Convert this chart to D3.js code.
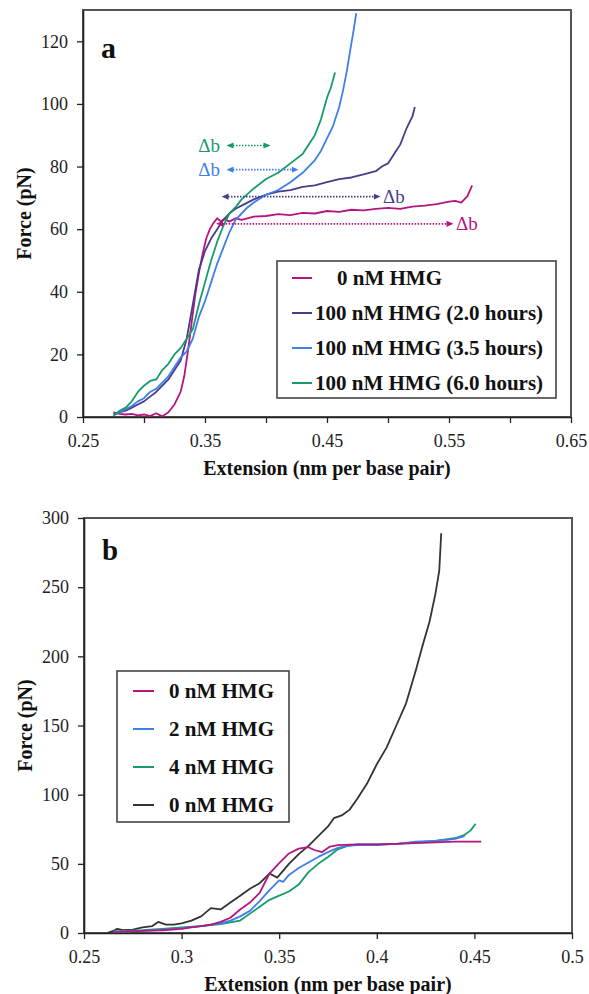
<!DOCTYPE html>
<html><head><meta charset="utf-8">
<script src="https://cdn.jsdelivr.net/npm/d3@7"></script>
<style>
html,body{margin:0;padding:0;background:#fff;}
svg{display:block;}
svg text{font-family:"Liberation Serif","Times New Roman",Times,serif;}
</style></head>
<body>
<svg id="chart" width="589" height="994"></svg>
<script>
// ---------- Panel a data ----------
const aMagentaX = [0.275,0.28,0.285,0.29,0.295,0.30,0.305,0.31,0.315,0.32,0.325,0.33,0.333,0.336,0.339,0.342,0.345,0.348,0.351,0.354,0.357,0.36,0.363,0.366,0.37,0.375,0.38,0.39,0.40,0.41,0.42,0.43,0.44,0.45,0.46,0.47,0.48,0.49,0.50,0.51,0.52,0.53,0.54,0.55,0.555,0.56,0.565,0.569];
const aMagentaF = [1.5,1,0.8,1,0.5,0.8,0.3,1.2,0.2,1.5,4,8,13,21,30,39,46,52,57,60,62,63.5,62.5,63.2,62.4,63.5,63,64,64.2,64.8,64.5,65.2,65,65.8,65.5,66.2,66,66.5,66.8,66.5,67.2,67.5,68,68.8,69,68.5,70.5,74];
const aPurpleX = [0.275,0.28,0.285,0.29,0.295,0.30,0.305,0.31,0.315,0.32,0.325,0.33,0.335,0.34,0.345,0.35,0.355,0.36,0.365,0.37,0.375,0.38,0.39,0.40,0.41,0.42,0.43,0.44,0.45,0.46,0.47,0.48,0.49,0.495,0.50,0.505,0.51,0.515,0.52,0.522];
const aPurpleF = [1,1.5,2,3,4,5,6.5,8,10,12,15,18,25,36,47,53,57,60,63,65,66.5,67.5,69.5,71,72,72.5,73.5,74,75,76,76.5,77.5,78.5,80,81,84,87,92,96,99];
const aBlueX = [0.275,0.28,0.285,0.29,0.295,0.30,0.305,0.31,0.315,0.32,0.325,0.33,0.335,0.34,0.345,0.35,0.355,0.36,0.365,0.37,0.375,0.38,0.385,0.39,0.40,0.41,0.42,0.43,0.44,0.445,0.45,0.455,0.46,0.463,0.466,0.469,0.472,0.474];
const aBlueF = [0.5,1.5,2.5,3.5,5,6,8,9,11,13,16,19,21,25,32,37,43,49,54,59,63,65,67,68.5,71,72.5,75,78,82,85,89,93,99,104,110,117,124,129];
const aGreenX = [0.275,0.28,0.285,0.29,0.295,0.30,0.305,0.31,0.315,0.32,0.325,0.33,0.335,0.34,0.345,0.35,0.355,0.36,0.365,0.37,0.375,0.38,0.39,0.40,0.41,0.42,0.43,0.44,0.445,0.45,0.453,0.4566];
const aGreenF = [0.5,2,3,5,8,10,11.5,12,15,17,20,22,25,28,36,43,50,56,61,65,67,69.5,73,76,78,81,84,90,95,102,105,110];
const aLabels = ["0 nM HMG","100 nM HMG (2.0 hours)","100 nM HMG (3.5 hours)","100 nM HMG (6.0 hours)"];
const aColors = ["#b5157f","#4a3b8e","#3f7fe8","#179a6c"];
// Δb annotation: start extension, end extension, force level
const aArrowX1 = [0.3705,0.3705,0.3664,0.362];
const aArrowX2 = [0.4008,0.4238,0.491,0.5508];
const aArrowF  = [86.7,79,70.4,61.7];
const aArrowSide = ["left","left","right","right"];
const aArrowColor = ["#179a6c","#3f7fe8","#4a3b8e","#b5157f"];
const aXTicks = [0.25,0.30,0.35,0.40,0.45,0.50,0.55,0.60,0.65];
const aXLabels = ["0.25","","0.35","","0.45","","0.55","","0.65"];
const aYTicks = [0,20,40,60,80,100,120];

// ---------- Panel b data ----------
const bMagentaX = [0.265,0.27,0.28,0.29,0.30,0.305,0.31,0.315,0.32,0.325,0.33,0.335,0.34,0.345,0.35,0.355,0.36,0.365,0.368,0.372,0.376,0.38,0.39,0.40,0.41,0.42,0.43,0.44,0.45,0.4535];
const bMagentaF = [0.5,1,1.5,2,3,4,5,6,8,11,17,22,29,43,50.5,57.5,61,62,60,58.5,62.5,63.5,64,64,64.5,65,65.5,66,66,66];
const bBlueX = [0.265,0.27,0.28,0.29,0.30,0.31,0.32,0.325,0.33,0.335,0.34,0.345,0.35,0.352,0.355,0.36,0.365,0.37,0.375,0.38,0.385,0.39,0.40,0.41,0.42,0.43,0.44,0.445];
const bBlueF = [1,1,1.5,2.5,3.5,5,7,9,12,16,23,31,38,37,42,47,51,55,58.5,61.5,63,63.5,63.5,64.5,66,66.5,68,70];
const bGreenX = [0.265,0.27,0.28,0.29,0.30,0.31,0.32,0.33,0.335,0.34,0.345,0.35,0.355,0.36,0.365,0.37,0.375,0.38,0.385,0.39,0.40,0.41,0.42,0.43,0.44,0.445,0.448,0.4506];
const bGreenF = [1,1.5,2,3,4,5,6.5,9,14,19,24,27,30,35,44,50,55,60.5,63,64,64,64.5,65.5,66.5,68.5,71,74,79];
const bBlackX = [0.2618,0.265,0.267,0.27,0.275,0.28,0.285,0.288,0.292,0.296,0.30,0.305,0.31,0.315,0.32,0.325,0.33,0.335,0.34,0.345,0.349,0.355,0.36,0.365,0.37,0.375,0.378,0.382,0.386,0.39,0.395,0.40,0.405,0.41,0.415,0.42,0.4235,0.427,0.43,0.432,0.433];
const bBlackF = [0,1.5,3,2,2.5,4,5,8,6,6,7,9,12,18,17,22,27,32,36,43,40,50,57,63,70,77,83,85,89,97,108,122,134,150,166,190,208,225,245,262,289];
const bLabels = ["0 nM HMG","2 nM HMG","4 nM HMG","0 nM HMG"];
const bColors = ["#b5157f","#3f7fe8","#179a6c","#333333"];
const bXTicks = [0.25,0.30,0.35,0.40,0.45,0.50];
const bXLabels = ["0.25","0.3","0.35","0.4","0.45","0.5"];
const bYTicks = [0,50,100,150,200,250,300];

const FONT = "'Liberation Serif','Times New Roman',Times,serif";
const svg = d3.select("#chart");
const defs = svg.append("defs");

function zip(xs, fs){ return xs.map((x,i)=>({x:x, f:fs[i]})); }

function drawPanel(cfg){
  const g = svg.append("g").attr("font-family",FONT);
  const x = d3.scaleLinear().domain(cfg.xDomain).range(cfg.xRange);
  const y = d3.scaleLinear().domain(cfg.yDomain).range(cfg.yRange);
  const [x0,x1] = cfg.xRange, [y0,y1] = cfg.yRange;

  g.append("rect").attr("x",x0).attr("y",y1).attr("width",x1-x0).attr("height",y0-y1)
    .attr("fill","none").attr("stroke","#555").attr("stroke-width",2);

  const xa = d3.axisBottom(x).tickValues(cfg.xTicks).tickSize(6).tickSizeOuter(0).tickPadding(11)
    .tickFormat((d,i)=>cfg.xLabels[i]);
  const gx = g.append("g").attr("transform",`translate(0,${y0})`).call(xa);
  const ya = d3.axisLeft(y).tickValues(cfg.yTicks).tickSize(6).tickSizeOuter(0).tickPadding(9)
    .tickFormat(d3.format("d"));
  const gy = g.append("g").attr("transform",`translate(${x0},0)`).call(ya);
  [gx,gy].forEach(a=>{
    a.attr("font-family",FONT).attr("font-size",18);
    a.select(".domain").attr("stroke","#222").attr("stroke-width",1.6);
    a.selectAll(".tick line").attr("stroke","#222").attr("stroke-width",1.3);
    a.selectAll(".tick text").attr("font-family",FONT).attr("font-size",18).attr("fill","#222");
  });

  g.append("text").attr("x",(x0+x1)/2).attr("y",y0+58).attr("text-anchor","middle").attr("font-family",FONT)
    .attr("font-size",20).attr("font-weight","bold").attr("fill","#111").text("Extension (nm per base pair)");
  g.append("text").attr("transform",`translate(${cfg.yTitleX},${(y0+y1)/2}) rotate(-90)`).attr("font-family",FONT)
    .attr("text-anchor","middle").attr("font-size",20).attr("font-weight","bold").attr("fill","#111").text("Force (pN)");

  g.append("text").attr("x",cfg.letterX).attr("y",cfg.letterY).attr("font-size",cfg.letterSize).attr("font-family",FONT)
    .attr("font-weight","bold").attr("fill","#111").text(cfg.letter);

  const line = d3.line().x(d=>x(d.x)).y(d=>y(d.f));
  cfg.series.forEach(s=>{
    g.append("path").datum(zip(s.xs,s.fs)).attr("d",line).attr("fill","none")
      .attr("stroke",s.color).attr("stroke-width",1.8).attr("stroke-linejoin","round");
  });

  const L = cfg.legend;
  g.append("rect").attr("x",L.x).attr("y",L.y).attr("width",L.w).attr("height",L.h)
    .attr("fill","#fff").attr("stroke","#444").attr("stroke-width",1.6);
  L.labels.forEach((lab,i)=>{
    const by = L.y + L.firstBase + i*L.step;
    g.append("line").attr("x1",L.sx1).attr("x2",L.sx2).attr("y1",by-7).attr("y2",by-7)
      .attr("stroke",L.colors[i]).attr("stroke-width",2);
    g.append("text").attr("x", L.textX[i]).attr("y",by).attr("font-size",21).attr("font-weight","bold").attr("font-family",FONT)
      .attr("fill","#111").text(lab);
  });
  return {g,x,y};
}

const A = drawPanel({
  xDomain:[0.25,0.65], xRange:[83,571], yDomain:[0,130], yRange:[417,10],
  xTicks:aXTicks, xLabels:aXLabels, yTicks:aYTicks, yTitleX:31,
  letter:"a", letterX:101, letterY:58, letterSize:30,
  series:[
    {xs:aMagentaX, fs:aMagentaF, color:aColors[0]},
    {xs:aPurpleX, fs:aPurpleF, color:aColors[1]},
    {xs:aBlueX, fs:aBlueF, color:aColors[2]},
    {xs:aGreenX, fs:aGreenF, color:aColors[3]}
  ],
  legend:{x:277,y:261,w:279,h:137,firstBase:24,step:35,sx1:292,sx2:312,
    textX:[337,315,315,315], labels:aLabels, colors:aColors}
});

aArrowColor.forEach((c,i)=>{
  const id = "arr"+i;
  defs.append("marker").attr("id",id).attr("viewBox","0 0 8 8").attr("refX",4).attr("refY",4)
    .attr("markerWidth",7).attr("markerHeight",7).attr("markerUnits","userSpaceOnUse")
    .attr("orient","auto-start-reverse")
    .append("path").attr("d","M0,0.5 L8,4 L0,7.5 Z").attr("fill",c);
  const yy = A.y(aArrowF[i]);
  const xs = A.x(aArrowX1[i]), xe = A.x(aArrowX2[i]);
  A.g.append("line").attr("x1",xs).attr("x2",xe).attr("y1",yy).attr("y2",yy)
    .attr("stroke",c).attr("stroke-width",1.6).attr("stroke-dasharray","1.5,1.5")
    .attr("marker-start",`url(#${id})`).attr("marker-end",`url(#${id})`);
  const left = aArrowSide[i]==="left";
  A.g.append("text").attr("x", left ? xs-10 : xe+6).attr("y",yy).attr("dy","0.35em").attr("font-family",FONT)
    .attr("text-anchor", left ? "end" : "start").attr("font-size",19).attr("fill",c).text("Δb");
});

const B = drawPanel({
  xDomain:[0.25,0.5], xRange:[84,572], yDomain:[0,300], yRange:[933,518],
  xTicks:bXTicks, xLabels:bXLabels, yTicks:bYTicks, yTitleX:32,
  letter:"b", letterX:102, letterY:560, letterSize:29,
  series:[
    {xs:bBlackX, fs:bBlackF, color:bColors[3]},
    {xs:bGreenX, fs:bGreenF, color:bColors[2]},
    {xs:bBlueX, fs:bBlueF, color:bColors[1]},
    {xs:bMagentaX, fs:bMagentaF, color:bColors[0]}
  ],
  legend:{x:117,y:671,w:172,h:151,firstBase:27,step:38,sx1:133,sx2:154,
    textX:[169,169,169,169], labels:bLabels, colors:bColors}
});
</script>
</body></html>
